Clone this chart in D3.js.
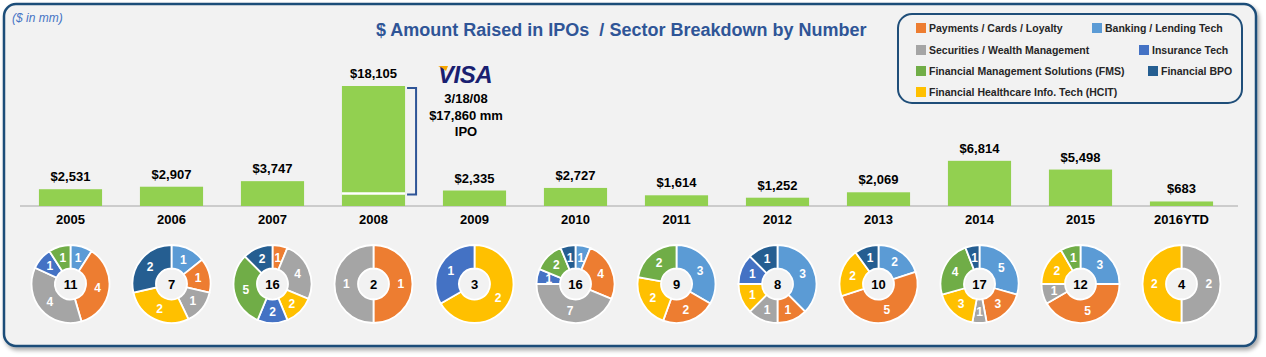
<!DOCTYPE html>
<html>
<head>
<meta charset="utf-8">
<script src="https://cdn.jsdelivr.net/npm/d3@7"></script>
<style>
  body { margin: 0; background: #ffffff; }
  svg { display: block; font-family: "Liberation Sans", Arial, sans-serif; }
</style>
</head>
<body>
<svg id="chart" width="1266" height="357"></svg>
<script>
// ---------- data ----------
const years = ["2005","2006","2007","2008","2009","2010","2011","2012","2013","2014","2015","2016YTD"];
const amounts = [2531, 2907, 3747, 18105, 2335, 2727, 1614, 1252, 2069, 6814, 5498, 683];
const amountLabels = ["$2,531","$2,907","$3,747","$18,105","$2,335","$2,727","$1,614","$1,252","$2,069","$6,814","$5,498","$683"];

// sector counts per year (order of slices clockwise from top)
const banking    = [1,1,0,0,0,1,3,3,2,5,3,0];
const payments   = [4,1,1,1,0,4,2,1,5,3,5,0];
const securities = [4,1,4,1,0,7,0,1,0,1,1,2];
const hcit       = [0,2,2,0,2,0,2,1,2,3,2,2];
const insurance  = [1,0,2,0,1,1,0,1,0,0,0,0];
const fms        = [1,0,5,0,0,2,2,0,0,4,1,0];
const bpo        = [0,2,2,0,0,1,0,1,1,1,0,0];

const sectorNames = ["Banking / Lending Tech","Payments / Cards / Loyalty","Securities / Wealth Management",
  "Financial Healthcare Info. Tech (HCIT)","Insurance Tech","Financial Management Solutions (FMS)","Financial BPO"];
const sectorSeries = [banking, payments, securities, hcit, insurance, fms, bpo];
const sectorColors = ["#5b9bd5","#ed7d31","#a5a5a5","#ffc000","#4472c4","#70ad47","#255e91"];

const visaLines = ["3/18/08","$17,860 mm","IPO"];
const visaBreakValue = 1900;

// ---------- drawing ----------
const svg = d3.select("#chart");
const defs = svg.append("defs");
const f = defs.append("filter").attr("id","shadow").attr("x","-5%").attr("y","-5%").attr("width","110%").attr("height","115%");
f.append("feDropShadow").attr("dx",2).attr("dy",3).attr("stdDeviation",2).attr("flood-color","#000").attr("flood-opacity",0.35);

// frame
svg.append("rect").attr("x",4).attr("y",4).attr("width",1252).attr("height",342)
  .attr("rx",12).attr("ry",12).attr("fill","#f2f2f2").attr("stroke","#1f4e79").attr("stroke-width",2.5)
  .attr("filter","url(#shadow)");

svg.append("text").attr("x",12).attr("y",22).attr("font-size",12).attr("font-style","italic")
  .attr("fill","#4472c4").text("($ in mm)");

svg.append("text").attr("x",376).attr("y",36).attr("font-size",18).attr("font-weight","bold")
  .attr("fill","#2f5597").attr("xml:space","preserve").style("white-space","pre")
  .text("$ Amount Raised in IPOs  / Sector Breakdown by Number");

// scales
const x = d3.scaleBand().domain(years).range([20, 1232]).paddingInner(0.375).paddingOuter(0.1875);
const baseY = 206;
const y = d3.scaleLinear().domain([0, 18105]).range([baseY, 86]);

// axis baseline
const axis = svg.append("g").attr("transform",`translate(0,${baseY})`)
  .call(d3.axisBottom(x).tickSize(0).tickPadding(9));
axis.select(".domain").attr("stroke","#bfbfbf").attr("stroke-width",1.5).attr("d","M20,0H1238");
axis.selectAll("text").attr("font-size",13).attr("font-weight","bold").attr("fill","#000")
  .attr("font-family","Liberation Sans, Arial, sans-serif");

// bars
svg.append("g").selectAll("rect").data(years).join("rect")
  .attr("x", d => x(d)).attr("width", x.bandwidth())
  .attr("y", (d,i) => y(amounts[i])).attr("height", (d,i) => baseY - y(amounts[i]))
  .attr("fill","#92d050");

svg.append("g").selectAll("text").data(years).join("text")
  .attr("x", d => x(d) + x.bandwidth()/2).attr("y", (d,i) => y(amounts[i]) - 8)
  .attr("text-anchor","middle").attr("font-size",13).attr("font-weight","bold").attr("fill","#000")
  .text((d,i) => amountLabels[i]);

// VISA break and bracket
const vx = x("2008");
svg.append("line").attr("x1",vx).attr("x2",vx + x.bandwidth())
  .attr("y1",y(visaBreakValue)).attr("y2",y(visaBreakValue)).attr("stroke","#fff").attr("stroke-width",2.5);
const bx0 = vx + x.bandwidth() + 2, bx1 = bx0 + 9;
svg.append("path")
  .attr("d",`M${bx0},${y(amounts[3])+2}H${bx1}V${y(visaBreakValue)+1}H${bx0}`)
  .attr("fill","none").attr("stroke","#2f5597").attr("stroke-width",2);

// VISA logo
svg.append("text").attr("x",465).attr("y",83).attr("text-anchor","middle").attr("font-size",24)
  .attr("font-weight","bold").attr("font-style","italic").attr("fill","#1a1f71").attr("letter-spacing",-0.5).text("VISA");
svg.append("path").attr("d","M438,66 L448,66 L446,71 Q442,67 438,66 Z").attr("fill","#f7a600");
svg.append("g").selectAll("text").data(visaLines).join("text")
  .attr("x",466).attr("y",(d,i) => 103 + i*16.5).attr("text-anchor","middle")
  .attr("font-size",13).attr("font-weight","bold").attr("fill","#000").text(d => d);

// donuts
const pie = d3.pie().sort(null).value(d => d.v);
const arc = d3.arc().innerRadius(15.5).outerRadius(39);
years.forEach((yr, yi) => {
  const data = sectorSeries.map((s, si) => ({v: s[yi], c: sectorColors[si]})).filter(d => d.v > 0);
  const total = d3.sum(data, d => d.v);
  const g = svg.append("g").attr("transform",`translate(${x(yr) + x.bandwidth()/2},284)`);
  const arcs = pie(data);
  g.selectAll("path").data(arcs).join("path").attr("d", arc)
    .attr("fill", d => d.data.c).attr("stroke","#fff").attr("stroke-width",1.8);
  g.selectAll("text.sl").data(arcs).join("text").attr("class","sl")
    .attr("transform", d => `translate(${arc.centroid(d)})`).attr("dy","0.36em")
    .attr("text-anchor","middle").attr("font-size",12).attr("font-weight","bold").attr("fill","#fff")
    .text(d => d.data.v);
  g.append("text").attr("dy","0.36em").attr("text-anchor","middle").attr("font-size",13)
    .attr("font-weight","bold").attr("fill","#000").text(total);
});

// legend
svg.append("rect").attr("x",898).attr("y",14).attr("width",344).attr("height",89)
  .attr("rx",14).attr("ry",14).attr("fill","none").attr("stroke","#1f4e79").attr("stroke-width",2);
const legendItems = [
  {i:1, x:916, y:28}, {i:0, x:1092, y:28},
  {i:2, x:916, y:50}, {i:4, x:1139, y:50},
  {i:5, x:916, y:71}, {i:6, x:1148, y:71},
  {i:3, x:916, y:92}
];
const lg = svg.append("g").selectAll("g").data(legendItems).join("g")
  .attr("transform", d => `translate(${d.x},${d.y})`);
lg.append("rect").attr("x",0).attr("y",-5).attr("width",10).attr("height",10).attr("fill", d => sectorColors[d.i]);
lg.append("text").attr("x",13).attr("dy","0.35em").attr("font-size",10.5).attr("font-weight","bold")
  .attr("fill","#262626").text(d => sectorNames[d.i]);
</script>
</body>
</html>
